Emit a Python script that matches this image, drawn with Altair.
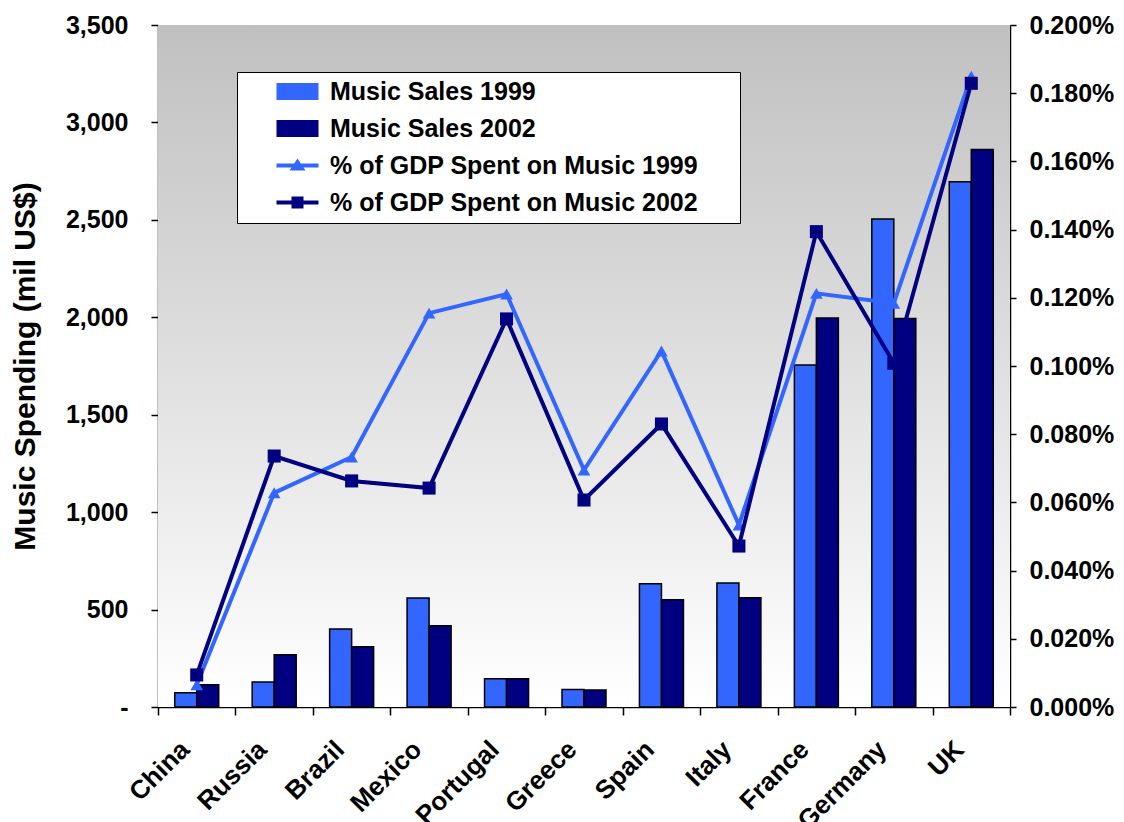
import altair as alt
import pandas as pd

countries = ["China", "Russia", "Brazil", "Mexico", "Portugal", "Greece",
             "Spain", "Italy", "France", "Germany", "UK"]
sales_1999 = [73, 128, 400, 559, 145, 90, 633, 636, 1755, 2504, 2695]
sales_2002 = [114, 268, 309, 417, 145, 87, 550, 561, 1996, 1994, 2861]
# percent of GDP (in %)
gdp_pct_1999 = [0.0065, 0.0628, 0.0733, 0.1155, 0.1211, 0.0695, 0.1044, 0.0534, 0.1213, 0.1184, 0.1850]
gdp_pct_2002 = [0.0094, 0.0736, 0.0663, 0.0642, 0.1138, 0.0607, 0.0830, 0.0472, 0.1394, 0.1008, 0.1829]

bar_series = ["Music Sales 1999", "Music Sales 2002"]
line_series = ["% of GDP Spent on Music 1999", "% of GDP Spent on Music 2002"]
all_series = bar_series + line_series
LIGHT = "#3366FF"
NAVY = "#000080"
series_colors = [LIGHT, NAVY, LIGHT, NAVY]
legend_shapes = [
    "M-2.1,-0.85H2.1V0.85H-2.1Z",
    "M-2.1,-0.85H2.1V0.85H-2.1Z",
    "M-2.1,-0.2H2.1V0.2H-2.1Z M-0.8,0.5L0,-0.7L0.8,0.5Z",
    "M-2.1,-0.2H2.1V0.2H-2.1Z M-0.6,-0.6H0.6V0.6H-0.6Z",
]
left_ticks = [0, 500, 1000, 1500, 2000, 2500, 3000, 3500]
right_ticks = [0.0, 0.0002, 0.0004, 0.0006, 0.0008, 0.0010, 0.0012, 0.0014, 0.0016, 0.0018, 0.0020]

FONT = "Liberation Sans"

bars_df = pd.DataFrame({
    "country": countries * 2,
    "series": [bar_series[0]] * len(countries) + [bar_series[1]] * len(countries),
    "value": sales_1999 + sales_2002,
})
lines_df = pd.DataFrame({
    "country": countries * 2,
    "series": [line_series[0]] * len(countries) + [line_series[1]] * len(countries),
    "pct": [v / 100 for v in gdp_pct_1999] + [v / 100 for v in gdp_pct_2002],
})
legend_df = pd.DataFrame({"series": all_series})

x_enc = alt.X(
    "country:N",
    scale=alt.Scale(domain=countries, paddingInner=0, paddingOuter=0),
    axis=alt.Axis(
        title=None, labelAngle=-45, labelAlign="right", labelBaseline="middle",
        labelPadding=30, labelOffset=-12, tickSize=8, tickBand="extent",
        labelFont=FONT, labelFontSize=26, labelFontWeight="bold", labelColor="black",
        domainColor="black", tickColor="black", domainWidth=1.5, tickWidth=1.5,
    ),
)

gradient = {
    "gradient": "linear", "x1": 0, "y1": 0, "x2": 0, "y2": 1,
    "stops": [{"offset": 0, "color": "#C0C0C0"}, {"offset": 1, "color": "#FFFFFF"}],
}

bg = alt.Chart(pd.DataFrame({"k": [0]})).mark_rect(fill=gradient).encode(
    opacity=alt.value(1)
)

bars = alt.Chart(bars_df).mark_bar(stroke="black", strokeWidth=1.5).encode(
    x=x_enc,
    xOffset=alt.XOffset("series:N", scale=alt.Scale(domain=bar_series, paddingInner=0, paddingOuter=0.76)),
    y=alt.Y(
        "value:Q",
        scale=alt.Scale(domain=[0, 3500], nice=False),
        axis=alt.Axis(
            title="Music Spending (mil US$)", values=left_ticks,
            labelExpr="datum.value == 0 ? '-' : format(datum.value, ',')",
            labelFont=FONT, labelFontSize=25, labelFontWeight="bold", labelColor="black",
            labelPadding=23, tickSize=7, tickColor="black", domainColor="black",
            domainWidth=1.5, tickWidth=1.5, grid=False,
            titleFont=FONT, titleFontSize=30, titleFontWeight="bold", titleColor="black",
            titlePadding=25,
        ),
    ),
    fill=alt.Fill("series:N", scale=alt.Scale(domain=bar_series, range=[LIGHT, NAVY]), legend=None),
)

line_y = alt.Y(
    "pct:Q",
    scale=alt.Scale(domain=[0, 0.002], nice=False),
    axis=alt.Axis(
        orient="right", title=None, values=right_ticks, format=".3%",
        labelFont=FONT, labelFontSize=25, labelFontWeight="bold", labelColor="black",
        labelPadding=13, tickSize=6, tickColor="black", domainColor="black",
        domainWidth=1.5, tickWidth=1.5, grid=False,
    ),
)

line99 = alt.Chart(lines_df).transform_filter(
    alt.datum.series == line_series[0]
).mark_line(strokeWidth=4, color=LIGHT).encode(x=x_enc, y=line_y)
pts99 = alt.Chart(lines_df).transform_filter(
    alt.datum.series == line_series[0]
).mark_point(shape="triangle-up", filled=True, size=160, opacity=1, color=LIGHT).encode(
    x=x_enc, y=line_y)
line02 = alt.Chart(lines_df).transform_filter(
    alt.datum.series == line_series[1]
).mark_line(strokeWidth=4, color=NAVY).encode(x=x_enc, y=line_y)
pts02 = alt.Chart(lines_df).transform_filter(
    alt.datum.series == line_series[1]
).mark_point(shape="square", filled=True, size=170, opacity=1, color=NAVY).encode(
    x=x_enc, y=line_y)

lines = alt.layer(line99, pts99, line02, pts02)

legend_def = alt.Legend(
    title="\u00a0", titleOrient="right", titlePadding=35, titleFontSize=10,
    orient="none", legendX=79, legendY=47,
    fillColor="white", strokeColor="black", padding=7,
    symbolSize=400, symbolOffset=41, labelOffset=20, symbolStrokeWidth=0,
    labelFont=FONT, labelFontSize=25, labelFontWeight="bold", labelColor="black",
    rowPadding=11, labelLimit=700, symbolOpacity=1,
)

legend_layer = alt.Chart(legend_df).transform_filter("false").mark_point(
    filled=True, opacity=1
).encode(
    color=alt.Color("series:N", scale=alt.Scale(domain=all_series, range=series_colors), legend=legend_def),
    shape=alt.Shape("series:N", scale=alt.Scale(domain=all_series, range=legend_shapes), legend=legend_def),
)

chart = alt.layer(bg, bars, lines, legend_layer).resolve_scale(
    y="independent"
).properties(
    width=852, height=682,
    padding={"left": 158, "top": 25, "right": 114, "bottom": 115},
    autosize=alt.AutoSizeParams(type="none"),
    background="white",
).configure_view(strokeWidth=0)

chart.save("out.html", embed_options={"renderer": "svg", "actions": False})
